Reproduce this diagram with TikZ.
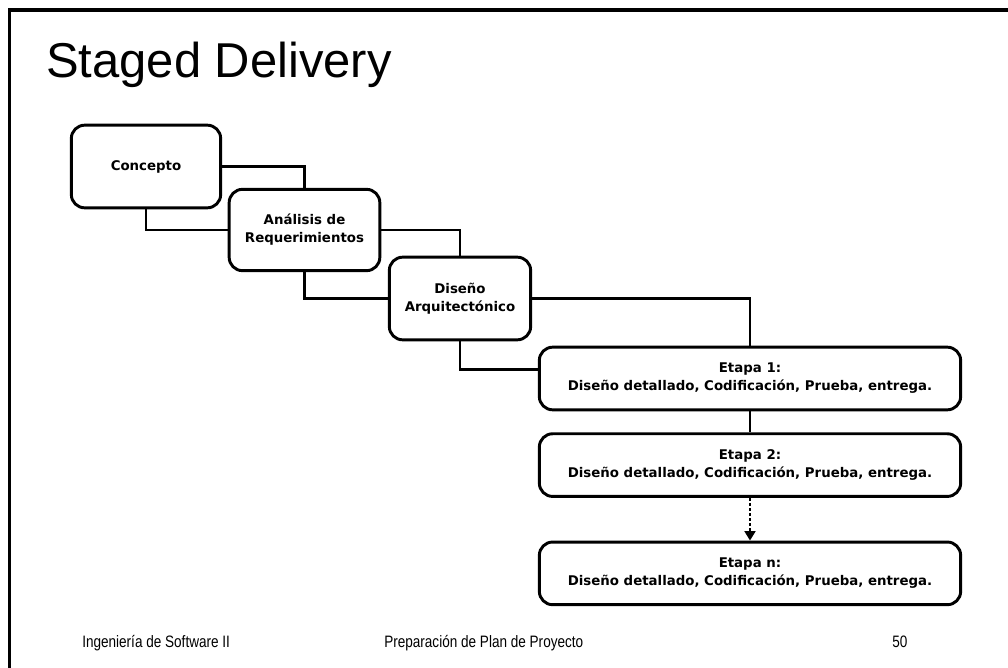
\documentclass[tikz,border=0pt]{standalone}
\usepackage{fontspec}
\setmainfont{Liberation Sans}
\newfontfamily\boxfont{DejaVu Sans}
\newfontfamily\narrowfont[FakeStretch=0.82]{Liberation Sans}
\usepackage{tikz}
\usetikzlibrary{positioning}
\usetikzlibrary{arrows.meta}
\tikzset{
  phase/.style={draw, line width=2.2pt, rounded corners=10pt, align=center,
    font=\boxfont\bfseries\fontsize{10}{13.5}\selectfont, inner sep=2pt},
  etapa/.style={phase, minimum width=316pt, minimum height=47pt},
  link/.style={line width=2.2pt},
  footer/.style={anchor=base west, inner sep=0pt,
    font=\narrowfont\fontsize{12.4}{14}\selectfont}
}

\begin{document}
\begin{tikzpicture}[x=0.75pt, y=-0.75pt]
\useasboundingbox (0,0) rectangle (1008,668);

% ================= Slide frame and title =================
\draw[line width=2.4pt] (1008,10) -- (9.5,10) -- (9.5,668);
\node[anchor=base west, inner sep=0pt, font=\fontsize{36.7}{44}\selectfont]
  (title) at (46,77) {Staged Delivery};

% ================= Cascade of phases =================
\node[phase, minimum width=112pt, minimum height=62pt] (concepto) at (146,166.5) {Concepto};
\node[phase, minimum width=113pt, minimum height=61pt] (analisis) at (304.5,230) {Análisis de\\Requerimientos};
\node[phase, minimum width=106pt, minimum height=62pt] (diseno) at (460,298.5) {Diseño\\Arquitectónico};

\draw[link] (concepto.east) -| (analisis.north);
\draw[link] (concepto.south) |- (analisis.west);
\draw[link] (analisis.east) -| (diseno.north);
\draw[link] (analisis.south) |- (diseno.west);

% ================= Stages =================
\node[etapa] (etapa1) at (750,378.5) {Etapa 1:\\Diseño detallado, Codificación, Prueba, entrega.};
\node[etapa, below=15.75pt of etapa1] (etapa2) {Etapa 2:\\Diseño detallado, Codificación, Prueba, entrega.};
\node[etapa, below=32pt of etapa2] (etapan) {Etapa n:\\Diseño detallado, Codificación, Prueba, entrega.};

\coordinate (in1) at ([yshift=7pt]etapa1.west);
\draw[link] (diseno.east) -| (etapa1.north);
\draw[link] (diseno.south) |- (in1);
\draw[link] (etapa1) -- (etapa2);
\draw[link, dash pattern=on 2.2pt off 1.6pt, -{Triangle[width=8pt,length=7pt]}]
  (etapa2) -- (etapan);

% ================= Footer =================
\node[footer] (curso) at (82,647) {Ingeniería de Software II};
\node[footer] (tema) at (384,647) {Preparación de Plan de Proyecto};
\node[footer] (pagina) at (892,647) {50};
\end{tikzpicture}
\end{document}
